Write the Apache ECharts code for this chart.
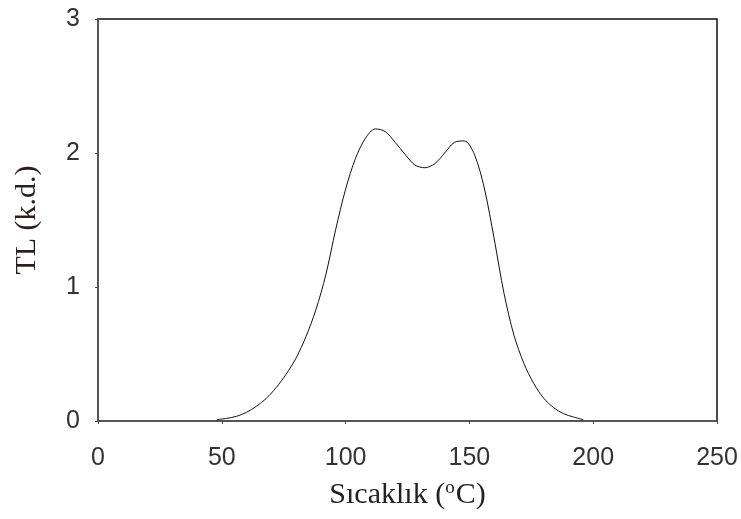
<!DOCTYPE html>
<html>
<head>
<meta charset="utf-8">
<script src="https://cdn.jsdelivr.net/npm/echarts@6/dist/echarts.min.js"></script>
<style>html,body{margin:0;padding:0;background:#fff}#c{width:741px;height:519px}</style>
</head>
<body>
<div id="c"></div>
<script>
const temps = [48,52,56,60,64,68,72,76,80,84,88,92,96,100,104,108,112,116,120,124,128,132,136,140,144,148,152,156,160,164,168,172,176,180,184,188,192,196];
const tl    = [0.01,0.02,0.035,0.065,0.11,0.17,0.25,0.35,0.47,0.63,0.83,1.09,1.43,1.73,1.96,2.11,2.18,2.16,2.08,1.99,1.91,1.89,1.92,2.00,2.08,2.09,1.99,1.74,1.36,0.95,0.64,0.43,0.28,0.17,0.10,0.055,0.03,0.01];
const xTicks = [0,50,100,150,200,250];
const yTicks = [0,1,2,3];

const chart = echarts.init(document.getElementById('c'));
chart.setOption({
  animation:false,
  grid:{left:98,right:24,top:19,bottom:98,show:true,borderColor:'#111',borderWidth:1.5,backgroundColor:'transparent'},
  xAxis:{type:'value',min:xTicks[0],max:xTicks[xTicks.length-1],interval:50,
    name:'{n|Sıcaklık (}{s|o}{n|C)}',nameLocation:'middle',nameGap:58,
    nameTextStyle:{rich:{n:{fontFamily:'Liberation Serif',fontSize:30,color:'#222'},s:{fontFamily:'Liberation Serif',fontSize:19,color:'#222',verticalAlign:'top',padding:[0,1,14,0]}}},
    axisLine:{show:true,lineStyle:{color:'#555',width:2}},
    axisTick:{show:true,inside:false,length:3,lineStyle:{color:'#444',width:1}},
    axisLabel:{fontFamily:'Liberation Sans',fontSize:25,color:'#333',margin:25},
    splitLine:{show:false}},
  yAxis:{type:'value',min:yTicks[0],max:yTicks[yTicks.length-1],interval:1,
    name:'TL (k.d.)',nameLocation:'middle',nameGap:56,
    nameTextStyle:{fontFamily:'Liberation Serif',fontSize:30,color:'#2a1f1f'},
    axisLine:{show:true,lineStyle:{color:'#555',width:2}},
    axisTick:{show:true,length:3,lineStyle:{color:'#444',width:1}},
    axisLabel:{fontFamily:'Liberation Sans',fontSize:25,color:'#333',margin:18},
    splitLine:{show:false}},
  series:[{type:'line',data:temps.map((t,i)=>[t,tl[i]]),smooth:0.3,showSymbol:false,
    lineStyle:{color:'#111',width:1}}]
});
</script>
</body>
</html>
